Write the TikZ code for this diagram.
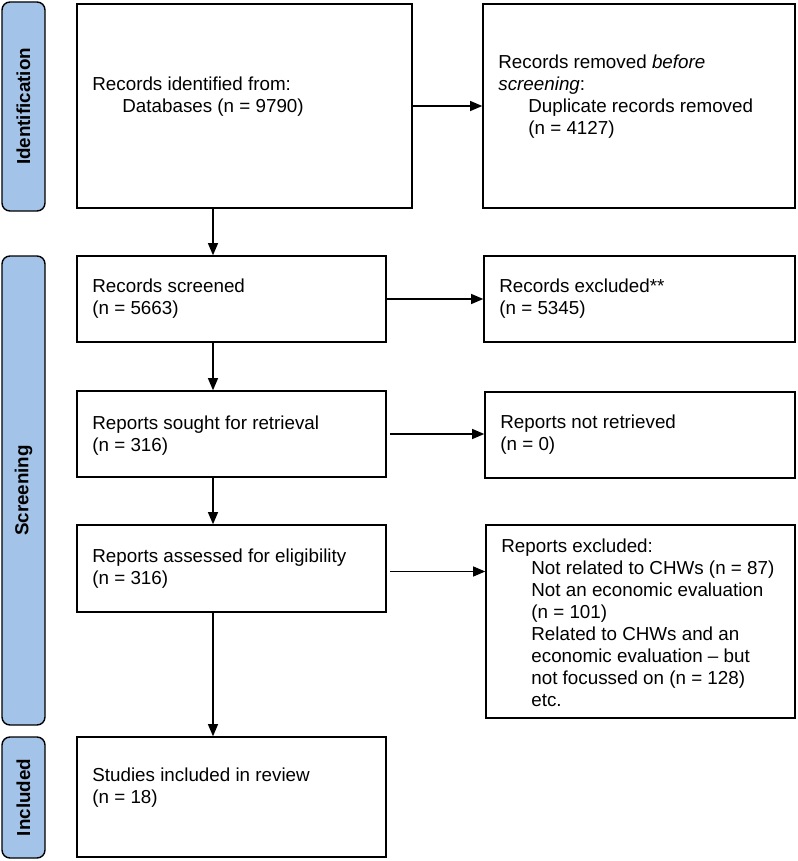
\documentclass[tikz,border=0pt]{standalone}
\usepackage{fontspec}
\setmainfont{Liberation Sans}
\usetikzlibrary{arrows.meta,positioning}
\definecolor{barblue}{RGB}{163,196,232}
\begin{document}
\begin{tikzpicture}[x=1pt,y=-1pt,
  box/.style={draw=black,line width=1.6pt,rectangle,inner sep=0pt},
  txt/.style={anchor=west,inner sep=0pt,align=left,font=\fontsize{18.8}{22}\selectfont},
  bar/.style={draw=black,line width=1.4pt,fill=barblue,rounded corners=8pt,minimum width=43pt,inner sep=0pt},
  barlabel/.style={font=\fontsize{18.8}{22}\selectfont\bfseries,rotate=90},
  arr/.style={line width=1.1pt,-{Triangle[length=12pt,width=10pt]}}]
\useasboundingbox (0,0) rectangle (797,861);
% side bars
\node[bar,minimum height=209pt] (sid) at (23.5,106.5) {};
\node[barlabel] (tid) at (sid.center) {Identification};
\node[bar,minimum height=469pt] (ssc) at (23.5,490.5) {};
\node[barlabel] (tsc) at (ssc.center) {Screening};
\node[bar,minimum height=121pt] (sin) at (23.5,797.5) {};
\node[barlabel] (tin) at (sin.center) {Included};
% boxes
\node[box,minimum width=335pt,minimum height=204pt] (b1) at (244.5,106) {};
\node[box,minimum width=312pt,minimum height=204pt] (b2) at (639,106) {};
\node[box,minimum width=309pt,minimum height=86pt] (b3) at (231.5,299) {};
\node[box,minimum width=311pt,minimum height=86pt] (b4) at (639.5,299) {};
\node[box,minimum width=309pt,minimum height=86pt] (b5) at (231.5,434) {};
\node[box,minimum width=310pt,minimum height=86pt] (b6) at (640,435) {};
\node[box,minimum width=309pt,minimum height=87pt] (b7) at (231.5,568.5) {};
\node[box,minimum width=309pt,minimum height=193pt] (b8) at (640.5,621.5) {};
\node[box,minimum width=309pt,minimum height=120pt] (b9) at (231.5,797) {};
% texts
\node[txt] (t1) at ([xshift=16pt,yshift=9pt]b1.west)
 {Records identified from:\\\hspace*{30pt}Databases (n = 9790)};
\node[txt] (t2) at ([xshift=16pt,yshift=9pt]b2.west)
 {Records removed \textit{before}\\\textit{screening}:\\\hspace*{30pt}Duplicate records removed\\\hspace*{30pt}(n = 4127)};
\node[txt] (t3) at ([xshift=16pt]b3.west) {Records screened\\(n = 5663)};
\node[txt] (t4) at ([xshift=16pt]b4.west) {Records excluded**\\(n = 5345)};
\node[txt] (t5) at ([xshift=16pt,yshift=-2pt]b5.west) {Reports sought for retrieval\\(n = 316)};
\node[txt] (t6) at ([xshift=16pt]b6.west) {Reports not retrieved\\(n = 0)};
\node[txt] (t7) at ([xshift=16pt]b7.west) {Reports assessed for eligibility\\(n = 316)};
\node[txt,anchor=north west] (t8) at ([xshift=16pt,yshift=-14pt]b8.north west)
 {Reports excluded:\\
 \hspace*{30pt}Not related to CHWs (n = 87)\\
 \hspace*{30pt}Not an economic evaluation\\
 \hspace*{30pt}(n = 101)\\
 \hspace*{30pt}Related to CHWs and an\\
 \hspace*{30pt}economic evaluation -- but\\
 \hspace*{30pt}not focussed on (n = 128)\\
 \hspace*{30pt}etc.};
\node[txt] (t9) at ([xshift=16pt,yshift=9pt]b9.west) {Studies included in review\\(n = 18)};
% connectors
\coordinate (ax) at (213,0);
\draw[arr] (b1.south -| ax) -- (b3.north -| ax);
\draw[arr] (b3.south -| ax) -- (b5.north -| ax);
\draw[arr] (b5.south -| ax) -- (b7.north -| ax);
\draw[arr] (b7.south -| ax) -- (b9.north -| ax);
\draw[arr] (b1.east) -- (b2.west |- b1.east);
\draw[arr] (b3.east) -- (b4.west |- b3.east);
\draw[arr] ([xshift=3pt]b5.east) -- (b6.west |- b5.east);
\draw[arr] ([xshift=3pt,yshift=-3pt]b7.east) -- ([yshift=-3pt]b8.west |- b7.east);
\end{tikzpicture}
\end{document}
